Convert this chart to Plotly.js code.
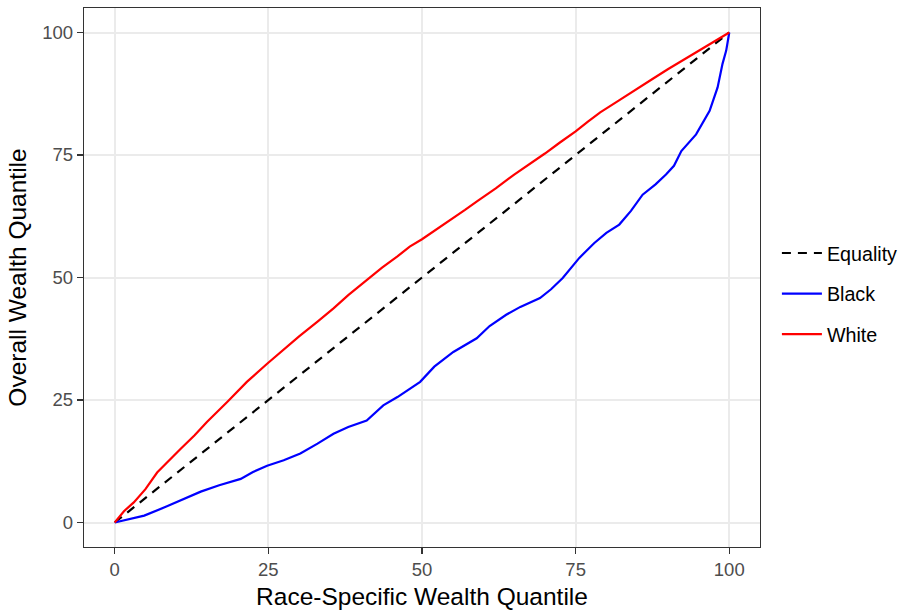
<!DOCTYPE html>
<html>
<head>
<meta charset="utf-8">
<script src="https://cdn.plot.ly/plotly-3.0.1.min.js"></script>
<style>html,body{margin:0;padding:0;background:#fff;}#chart{width:904px;height:611px;}</style>
</head>
<body>
<div id="chart"></div>
<script>
const equalityX = [0, 100];
const equalityY = [0, 100];

const blackX = [0, 2, 4.8, 8.5, 11, 14, 17, 20.5, 22.5, 24.8, 27.5, 30.2, 33, 35.6, 38, 41, 43.7, 46, 49.7, 52, 55.1, 58.9, 61, 63.7, 66, 69.2, 71, 72.9, 75.6, 78, 80, 82.1, 84, 85.9, 88, 89.7, 91, 92.2, 94.6, 96.8, 98.1, 98.9, 99.5, 100];
const blackY = [0, 0.6, 1.4, 3.3, 4.6, 6.3, 7.6, 8.9, 10.3, 11.6, 12.7, 14.1, 16.1, 18.1, 19.5, 20.8, 23.9, 25.6, 28.7, 31.8, 34.8, 37.6, 40.1, 42.4, 44.0, 45.8, 47.6, 49.9, 54.0, 57.0, 59.1, 60.8, 63.6, 66.9, 69.0, 71.0, 72.8, 75.8, 79.2, 84.0, 88.8, 93.6, 96.3, 100];

const whiteX = [0, 1.5, 3.1, 5, 6.9, 8.8, 10.7, 13, 15, 18.3, 21.5, 24.8, 27.5, 30, 33, 35.6, 38, 41, 43.5, 46, 48, 50, 52.5, 55, 57, 59, 62, 65, 67.5, 70, 72.5, 75, 77, 79, 82, 85, 87.5, 90, 92.5, 95, 97.5, 100];
const whiteY = [0, 2.3, 4.1, 6.8, 10.2, 12.7, 15.0, 17.8, 20.5, 24.6, 28.7, 32.4, 35.3, 38.0, 41.0, 43.7, 46.4, 49.5, 52.0, 54.3, 56.3, 57.8, 59.9, 62.0, 63.8, 65.6, 68.2, 71.0, 73.1, 75.3, 77.6, 79.8, 81.8, 83.7, 86.1, 88.6, 90.5, 92.5, 94.4, 96.3, 98.2, 100];

const tickLabels = ['0', '25', '50', '75', '100'];
const tickValues = [0, 25, 50, 75, 100];

const FONT = 'Liberation Sans, Arial, sans-serif';

const traces = [
  {x: equalityX, y: equalityY, name: 'Equality', mode: 'lines', legendgroup: 'a',
   line: {color: '#000000', width: 2.2, dash: '9px,7px'}},
  {x: blackX, y: blackY, name: 'Black', mode: 'lines', legendgroup: 'b',
   line: {color: '#0000ff', width: 2.2}},
  {x: whiteX, y: whiteY, name: 'White', mode: 'lines', legendgroup: 'c',
   line: {color: '#ff0000', width: 2.2}}
];

const axisCommon = {
  range: [-5, 105],
  tickvals: tickValues,
  ticktext: tickLabels,
  showgrid: true, gridcolor: '#ebebeb', gridwidth: 2,
  zeroline: false,
  showline: true, linecolor: '#333333', linewidth: 1.2, mirror: true,
  ticks: 'outside', ticklen: 6, tickcolor: '#333333', tickwidth: 1.5,
  tickfont: {family: FONT, size: 18.5, color: '#4d4d4d'}
};

const layout = {
  width: 904, height: 611,
  margin: {l: 84, r: 144, t: 8, b: 64, autoexpand: false},
  paper_bgcolor: '#ffffff', plot_bgcolor: '#ffffff',
  font: {family: FONT},
  xaxis: Object.assign({}, axisCommon, {
    title: {text: 'Race-Specific Wealth Quantile', standoff: 8,
            font: {size: 24.5, color: '#000000', family: FONT}}
  }),
  yaxis: Object.assign({}, axisCommon, {
    title: {text: 'Overall Wealth Quantile', standoff: 8,
            font: {size: 24.5, color: '#000000', family: FONT}}
  }),
  showlegend: true,
  legend: {
    x: 1.025, xanchor: 'left', y: 0.47, yanchor: 'middle',
    font: {size: 19.7, color: '#000000', family: FONT},
    traceorder: 'grouped', tracegroupgap: 12, itemwidth: 40,
    bgcolor: 'rgba(0,0,0,0)'
  }
};

Plotly.newPlot('chart', traces, layout, {displayModeBar: false, staticPlot: true});
</script>
</body>
</html>
